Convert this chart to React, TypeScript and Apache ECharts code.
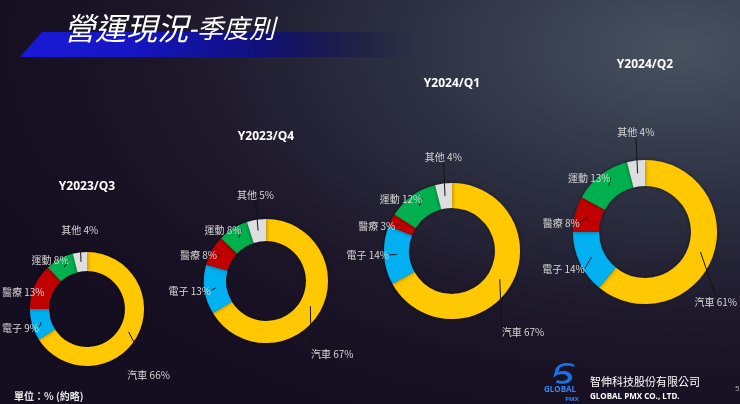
import React, { useEffect, useRef } from "react";
import * as echarts from "echarts";

const categories = ["汽車", "電子", "醫療", "運動", "其他"];
const quarters = ["Y2023/Q3", "Y2023/Q4", "Y2024/Q1", "Y2024/Q2"];
const q3Values = [66, 9, 13, 8, 4];
const q4Values = [67, 13, 8, 8, 5];
const q1Values = [67, 14, 3, 12, 4];
const q2Values = [61, 14, 8, 13, 4];
const quarterValues = [q3Values, q4Values, q1Values, q2Values];

const sliceColors = ["#FFC800", "#00B0F0", "#C00000", "#00B050", "#DEDEDE"];

// layout of each donut: center and radii
const layouts = [
  { cx: 87, cy: 309, r0: 38, r1: 57, titleY: 185 },
  { cx: 266, cy: 281, r0: 40, r1: 62, titleY: 135 },
  { cx: 452, cy: 251, r0: 43, r1: 68, titleY: 82 },
  { cx: 645, cy: 232, r0: 46, r1: 72, titleY: 63 },
];

// label placement style per category: distance (in outer radii) and angular shift (deg)
const labelPlacement = [
  { k: 1.58, shift: 18 },
  { k: 1.24, shift: 1 },
  { k: 1.17, shift: -8 },
  { k: 1.08, shift: -8 },
  { k: 1.4, shift: 2 },
];

const CJK = "'Noto Sans CJK TC', 'Noto Sans CJK SC', sans-serif";

const logoPath =
  "M34 3 C24 -1 12 2 9 10 L6 22 C12 15 24 15 26 21 C27 26 19 28 12 25 L9 28 C19 33 34 29 32 20 C30 12 19 11 13 14 L15 8 C19 5 27 4 36 7 Z";
echarts.graphic.registerShape("logo", (echarts.graphic as any).extendPath(logoPath, {}));

export default function App() {
  const ref = useRef<HTMLDivElement>(null);
  useEffect(() => {
    const chart = echarts.init(ref.current!, null, { renderer: "svg" });
    const W = chart.getWidth();
    const series: any[] = [];
    quarterValues.forEach((vals, qi) => {
      const L = layouts[qi];
      const data = categories.map((c, i) => ({ name: c, value: vals[i] }));
      const total = vals.reduce((a, b) => a + b, 0);
      series.push({
        type: "pie",
        center: [L.cx, L.cy],
        radius: [L.r0, L.r1],
        startAngle: 90,
        silent: true,
        label: { show: false },
        labelLine: { show: false },
        itemStyle: {
          color: (p: any) => sliceColors[p.dataIndex],
          shadowBlur: 4,
          shadowColor: "rgba(0,0,0,0.45)",
        },
        data,
        z: 2,
      });
      series.push({
        type: "pie",
        center: [L.cx, L.cy],
        radius: [0, (L.r0 + L.r1) / 2],
        startAngle: 90,
        silent: true,
        avoidLabelOverlap: false,
        minShowLabelAngle: 0,
        itemStyle: { color: "rgba(0,0,0,0)" },
        label: {
          show: true,
          position: "outside",
          formatter: "{b} {c}%",
          color: "#d6d6d6",
          fontSize: 10,
          fontFamily: CJK,
          overflow: "none",
        },
        labelLine: {
          show: true,
          length: 6,
          length2: 0,
          lineStyle: { color: "#141414", width: 1 },
        },
        labelLayout: (params: any) => {
          const i = params.dataIndex;
          let cum = 0;
          for (let j = 0; j < i; j++) cum += vals[j];
          const mid = ((cum + vals[i] / 2) / total) * 360 + labelPlacement[i].shift;
          const a = (mid * Math.PI) / 180;
          const d = L.r1 * labelPlacement[i].k;
          const w = params.labelRect ? params.labelRect.width : 40;
          let x = L.cx + d * Math.sin(a);
          x = Math.min(x, W - 3 - w / 2);
          x = Math.max(x, 2 + w / 2);
          return {
            x,
            y: L.cy - d * Math.cos(a),
            align: "center",
            verticalAlign: "middle",
          };
        },
        data,
        z: 3,
      });
    });

    const titleTexts = quarters.map((q, qi) => ({
      type: "text",
      x: layouts[qi].cx,
      y: layouts[qi].titleY,
      style: {
        text: q,
        fill: "#ffffff",
        font: "bold 12px 'Open Sans', sans-serif",
        textAlign: "center",
        textVerticalAlign: "middle",
      },
      z: 10,
    }));

    chart.setOption({
      animation: false,
      backgroundColor: {
        type: "radial",
        x: 0.92,
        y: 0.12,
        r: 1.0,
        colorStops: [
          { offset: 0, color: "#48525f" },
          { offset: 0.35, color: "#2e3245" },
          { offset: 0.7, color: "#1c1628" },
          { offset: 1, color: "#150d20" },
        ],
      },
      graphic: [
        {
          type: "polygon",
          shape: { points: [[42, 32], [420, 32], [420, 57], [20, 57]] },
          style: {
            fill: {
              type: "linear",
              x: 0,
              y: 0,
              x2: 1,
              y2: 0,
              colorStops: [
                { offset: 0, color: "#1a1ad8" },
                { offset: 0.3, color: "#1515c0" },
                { offset: 0.6, color: "#10107a" },
                { offset: 1, color: "rgba(20,20,60,0)" },
              ],
            },
          },
          z: 5,
        },
        {
          type: "text",
          x: 64,
          y: 26,
          style: {
            text: "{a|營運現況}{b|-季度別}",
            rich: {
              a: { fontSize: 31, fontStyle: "italic", fontFamily: CJK, fill: "#ffffff", fontWeight: "normal" },
              b: { fontSize: 26, fontStyle: "italic", fontFamily: CJK, fill: "#ffffff", fontWeight: "normal" },
            },
            fill: "#ffffff",
            textVerticalAlign: "middle",
          },
          z: 6,
        },
        ...titleTexts,
        {
          type: "text",
          x: 14,
          y: 395,
          style: {
            text: "單位：% (約略)",
            fill: "#e4e4e4",
            font: "bold 10px " + CJK,
            textVerticalAlign: "middle",
          },
          z: 10,
        },
        {
          type: "logo",
          x: 549,
          y: 362,
          scaleX: 0.72,
          scaleY: 0.72,
          style: { fill: "#1f6fe6" },
          z: 10,
        },
        {
          type: "text",
          x: 560,
          y: 388,
          style: {
            text: "GLOBAL",
            fill: "#2c86ff",
            font: "bold 8px 'Open Sans', sans-serif",
            textAlign: "center",
            textVerticalAlign: "middle",
          },
          z: 10,
        },
        {
          type: "text",
          x: 572,
          y: 399,
          style: {
            text: "PMX",
            fill: "#2c86ff",
            font: "bold 6px 'Open Sans', sans-serif",
            textAlign: "center",
            textVerticalAlign: "middle",
          },
          z: 10,
        },
        {
          type: "text",
          x: 590,
          y: 381,
          style: {
            text: "智伸科技股份有限公司",
            fill: "#ffffff",
            font: "11px " + CJK,
            textVerticalAlign: "middle",
          },
          z: 10,
        },
        {
          type: "text",
          x: 590,
          y: 395,
          style: {
            text: "GLOBAL PMX CO., LTD.",
            fill: "#ffffff",
            font: "bold 8px 'Open Sans', sans-serif",
            textVerticalAlign: "middle",
          },
          z: 10,
        },
        {
          type: "text",
          x: 735,
          y: 387,
          style: {
            text: "5",
            fill: "#bbbbbb",
            font: "8px 'Open Sans', sans-serif",
            textVerticalAlign: "middle",
          },
          z: 10,
        },
      ],
      series,
    });
    return () => chart.dispose();
  }, []);
  return (
    <div
      ref={ref}
      style={{ position: "fixed", left: 0, top: 0, width: 740, height: 404 }}
    />
  );
}
